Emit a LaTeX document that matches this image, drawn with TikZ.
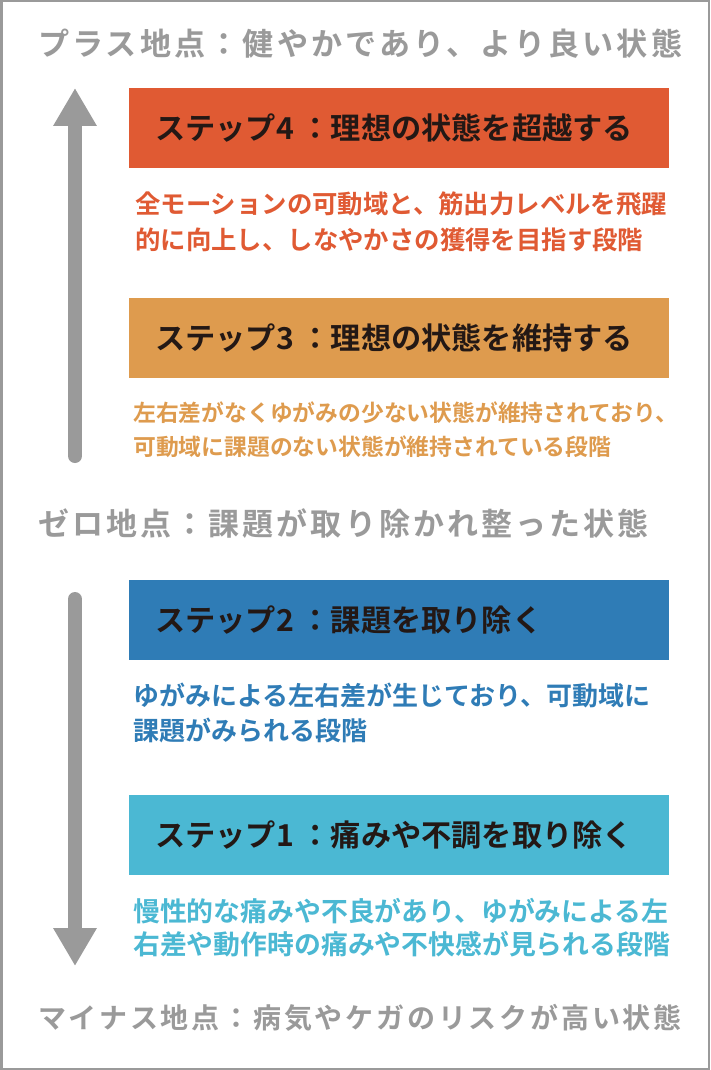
\documentclass[tikz,border=0pt]{standalone}
\usepackage{fontspec}
\setmainfont{Noto Sans CJK JP}[BoldFont={Noto Sans CJK JP Bold}]
\usetikzlibrary{arrows.meta}
\definecolor{levelgray}{RGB}{154,154,154}
\definecolor{textdark}{RGB}{35,24,21}
\definecolor{stepfour}{RGB}{224,90,51}
\definecolor{stepthree}{RGB}{222,155,78}
\definecolor{steptwo}{RGB}{47,124,182}
\definecolor{stepone}{RGB}{75,184,211}

\begin{document}
\begin{tikzpicture}[x=1pt,y=-1pt,
	stepbox/.style={anchor=north west,minimum width=540pt,minimum height=80pt,inner sep=0pt},
	steptext/.style={anchor=west,inner sep=0pt,text=textdark,font=\bfseries\fontsize{30.2}{34}\selectfont},
	desc/.style={anchor=west,align=left,inner sep=0pt},
	level/.style={anchor=west,inner sep=0pt,text=levelgray},
	bigarrow/.style={draw=levelgray,line width=14pt,line cap=round,-{Triangle[length=38pt,width=41pt]}}]
	\useasboundingbox (0,0) rectangle (710,1070);
	% frame
		\draw[levelgray,line width=2.5pt] (1.25,1.25) rectangle (708.75,1068.75);
	% plus point
		\node[level,font=\bfseries\fontsize{31.1}{36}\selectfont\addfontfeatures{LetterSpace=10}] (plus) at (38,44) {プラス地点：健やかであり、より良い状態};
	% step 4
		\node[stepbox,fill=stepfour] (step4) at (129,88) {};
		\node[steptext] (step4t) at ([xshift=26pt]step4.west) {ステップ4 ：理想の状態を超越する};
		\node[desc,text=stepfour,font=\bfseries\fontsize{25.4}{36}\selectfont] (desc4) at (135,222) {全モーションの可動域と、筋出力レベルを飛躍\\的に向上し、しなやかさの獲得を目指す段階};
	% step 3
		\node[stepbox,fill=stepthree] (step3) at (129,298) {};
		\node[steptext] (step3t) at ([xshift=26pt]step3.west) {ステップ3 ：理想の状態を維持する};
		\node[desc,text=stepthree,font=\bfseries\fontsize{22.8}{34}\selectfont] (desc3) at (133,430) {左右差がなくゆがみの少ない状態が維持されており、\\可動域に課題のない状態が維持されている段階};
	% zero point
		\node[level,font=\bfseries\fontsize{31}{36}\selectfont\addfontfeatures{LetterSpace=10}] (zero) at (38,524) {ゼロ地点：課題が取り除かれ整った状態};
	% step 2
		\node[stepbox,fill=steptwo] (step2) at (129,580) {};
		\node[steptext] (step2t) at ([xshift=26pt]step2.west) {ステップ2 ：課題を取り除く};
		\node[desc,text=steptwo,font=\bfseries\fontsize{26}{35}\selectfont] (desc2) at (133,712.5) {ゆがみによる左右差が生じており、可動域に\\課題がみられる段階};
	% step 1
		\node[stepbox,fill=stepone] (step1) at (129,795) {};
		\node[steptext] (step1t) at ([xshift=26pt]step1.west) {ステップ1 ：痛みや不調を取り除く};
		\node[desc,text=stepone,font=\bfseries\fontsize{26.85}{33}\selectfont] (desc1) at (133,927.5) {慢性的な痛みや不良があり、ゆがみによる左\\右差や動作時の痛みや不快感が見られる段階};
	% minus point
		\node[level,font=\bfseries\fontsize{28}{34}\selectfont\addfontfeatures{LetterSpace=10}] (minus) at (38,1018) {マイナス地点：病気やケガのリスクが高い状態};
	% arrows
		\coordinate (upfoot) at (75,456);
		\coordinate (uptip) at (75,88);
		\coordinate (downfoot) at (75,599);
		\coordinate (downtip) at (75,966);
		\draw[bigarrow] (upfoot) -- (uptip);
		\draw[bigarrow] (downfoot) -- (downtip);
\end{tikzpicture}
\end{document}
